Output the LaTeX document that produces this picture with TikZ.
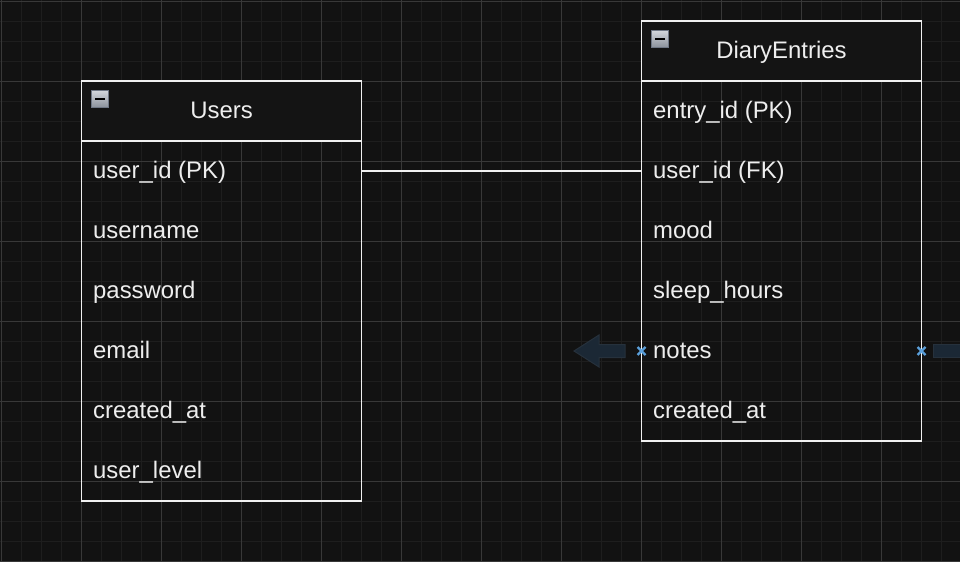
\documentclass[tikz,border=0pt]{standalone}
\usepackage{fontspec}
\setmainfont{Liberation Sans}
\usetikzlibrary{calc}
\definecolor{bgc}{HTML}{121212}
\definecolor{minorc}{HTML}{1E1E1E}
\definecolor{majorc}{HTML}{383838}
\definecolor{linec}{HTML}{F0F0F0}
\definecolor{hdrc}{HTML}{141414}
\definecolor{txtc}{HTML}{EEEEEE}
\definecolor{arrowfill}{HTML}{1B2835}
\definecolor{arrowline}{HTML}{26313C}
\definecolor{markc}{HTML}{5A9FDA}
\definecolor{iconline}{HTML}{707886}
\definecolor{icontop}{HTML}{D2D6DC}
\definecolor{iconbot}{HTML}{8C929C}
\tikzset{
  tblbox/.style={draw=linec, line width=1.5pt, anchor=north west, minimum width=280pt, minimum height=#1, inner sep=0pt, outer sep=0pt},
  hdrbox/.style={draw=linec, fill=hdrc, line width=1.5pt, anchor=north west, minimum width=280pt, minimum height=60pt, inner sep=0pt, outer sep=0pt},
  rowbox/.style={anchor=north west, minimum width=280pt, minimum height=60pt, inner sep=0pt, outer sep=0pt},
  field/.style={anchor=base west, text=txtc, inner sep=0pt, font=\fontsize{23.9}{28}\selectfont},
  title/.style={anchor=base, text=txtc, inner sep=0pt, font=\fontsize{23.9}{28}\selectfont},
  conn/.style={draw=linec, line width=1.5pt},
  minorline/.style={draw=minorc, line width=1pt},
  majorline/.style={draw=majorc, line width=1pt},
  iconbox/.style={draw=iconline, line width=1pt, top color=icontop, bottom color=iconbot, minimum width=17pt, minimum height=17pt, inner sep=0pt, anchor=north west}
}
\begin{document}
\begin{tikzpicture}[x=1pt,y=-1pt]
\fill[bgc] (0,0) rectangle (960,562);
\useasboundingbox (0,0) rectangle (960,562);
% grid
\foreach \i in {1,21,...,961} {\draw[minorline] (\i,0) -- (\i,562);}
\foreach \j in {1,21,...,561} {\draw[minorline] (0,\j) -- (960,\j);}
\foreach \i in {1,81,...,961} {\draw[majorline] (\i,0) -- (\i,562);}
\foreach \j in {1,81,...,561} {\draw[majorline] (0,\j) -- (960,\j);}

% Users table
\node[tblbox=420pt] (users) at (81.5,81) {};
\node[hdrbox] (usersh) at (81.5,81) {};
\node[iconbox] (usersicon) at (91,90) {};
\fill[black] ($(usersicon.center)+(-5,-1.3)$) rectangle ($(usersicon.center)+(5,1.3)$);
\node[title] (userst) at ($(usersh.center)+(0,7.5)$) {Users};
\foreach \k/\t in {1/user\_id (PK),2/username,3/password,4/email,5/created\_at,6/user\_level} {
  \node[rowbox] (u\k) at (81.5,{81+60*\k}) {};
  \node[field] (ut\k) at ($(u\k.west)+(11.5,7.2)$) {\t};
}

% DiaryEntries table
\node[tblbox=420pt] (diary) at (641.5,21) {};
\node[hdrbox] (diaryh) at (641.5,21) {};
\node[iconbox] (diaryicon) at (651,30) {};
\fill[black] ($(diaryicon.center)+(-5,-1.3)$) rectangle ($(diaryicon.center)+(5,1.3)$);
\node[title] (diaryt) at ($(diaryh.center)+(0,7.5)$) {DiaryEntries};
\foreach \k/\t in {1/entry\_id (PK),2/user\_id (FK),3/mood,4/sleep\_hours,5/notes,6/created\_at} {
  \node[rowbox] (d\k) at (641.5,{21+60*\k}) {};
  \node[field] (dt\k) at ($(d\k.west)+(11.5,7.2)$) {\t};
}

% connector
\draw[conn] (u1.east) -- (d2.west);

% hover arrows
\path[fill=arrowfill, draw=arrowline, line width=1pt]
  ($(d5.west)+(-16.5,-6.5)$) -- ($(d5.west)+(-42.5,-6.5)$) -- ($(d5.west)+(-42.5,-16)$)
  -- ($(d5.west)+(-67.5,0)$) -- ($(d5.west)+(-42.5,16)$) -- ($(d5.west)+(-42.5,6.5)$)
  -- ($(d5.west)+(-16.5,6.5)$) -- cycle;
\path[fill=arrowfill, draw=arrowline, line width=1pt]
  ($(d5.east)+(12,-6.5)$) rectangle ($(d5.east)+(45,6.5)$);

% hover markers
\foreach \p in {d5.west, d5.east} {
  \draw[markc, line width=2.3pt] ($(\p)+(-4,-4)$) -- ($(\p)+(4,4)$);
  \draw[markc, line width=2.3pt] ($(\p)+(-4,4)$) -- ($(\p)+(4,-4)$);
}
\end{tikzpicture}
\end{document}
